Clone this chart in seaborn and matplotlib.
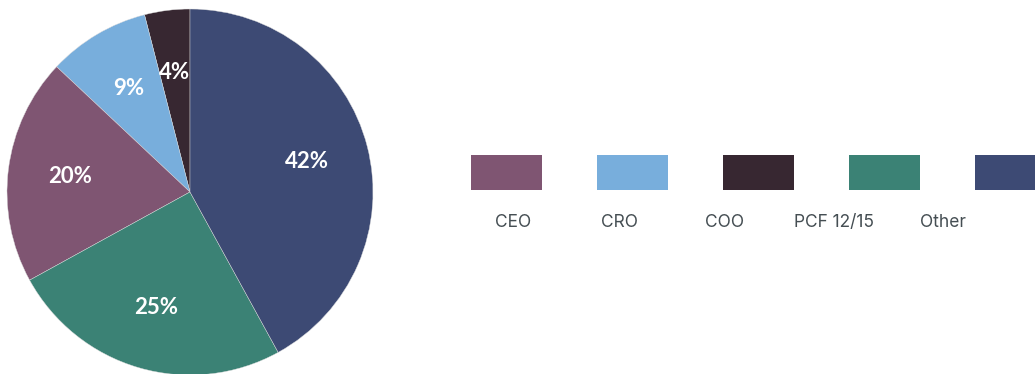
import matplotlib
matplotlib.use("Agg")
import matplotlib.pyplot as plt
from matplotlib.patches import Rectangle
import seaborn as sns

# Share of roles
categories = ["CEO", "CRO", "COO", "PCF 12/15", "Other"]
shares = [20, 9, 4, 25, 42]
colors = ["#7f5572", "#78aedc", "#372731", "#3b8275", "#3d4a74"]

# Wedges are drawn counter-clockwise from the top in this order
pie_order = ["COO", "CRO", "CEO", "PCF 12/15", "Other"]

sns.set_theme(style="white")
plt.rcParams["font.family"] = ["Inter", "DejaVu Sans"]

W, H = 1035, 374
fig = plt.figure(figsize=(W / 100, H / 100), dpi=100)
fig.patch.set_facecolor("white")

# Pie
R = 183
cx, cy = 190, 374 - 192
ax = fig.add_axes([(cx - R) / W, (cy - R) / H, 2 * R / W, 2 * R / H])
palette = dict(zip(categories, sns.color_palette(colors)))
vals = [shares[categories.index(c)] for c in pie_order]
cols = [palette[c] for c in pie_order]
wedges, texts, autotexts = ax.pie(
    vals, colors=cols, startangle=90, counterclock=True,
    autopct="%d%%", pctdistance=0.66, radius=1.0,
    wedgeprops=dict(linewidth=0.3, edgecolor="#dddddd"),
    textprops=dict(color="white", fontsize=16, fontweight="bold",
                   family=["Lato", "DejaVu Sans"]),
)
ax.set_xlim(-1, 1)
ax.set_ylim(-1, 1)
ax.set_aspect("equal")
ax.axis("off")

# Legend: swatches in a row with labels underneath
lax = fig.add_axes([0, 0, 1, 1])
lax.set_xlim(0, W)
lax.set_ylim(H, 0)
lax.axis("off")
sw_x0, sw_step, sw_w = 471, 126, 71
sw_top, sw_h = 155, 35
label_x = [513, 620, 725, 834, 943]
for i, cat in enumerate(categories):
    lax.add_patch(Rectangle((sw_x0 + sw_step * i, sw_top), sw_w, sw_h,
                            facecolor=palette[cat], edgecolor="none"))
    lax.text(label_x[i], 222, cat, ha="center", va="center",
             fontsize=12.5, color="#454e53")

fig.savefig("out.png", dpi=100, facecolor="white")
